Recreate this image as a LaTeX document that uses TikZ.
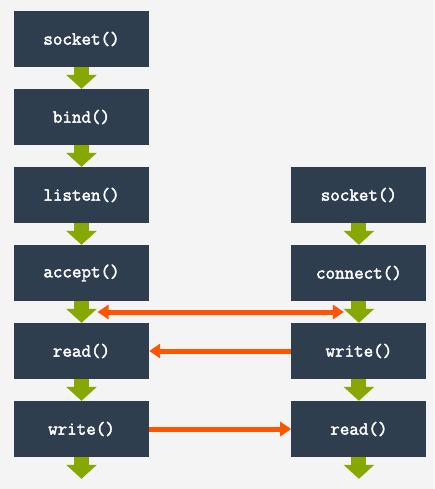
\documentclass[tikz,border=0pt]{standalone}
\usepackage{fontspec}
\newfontfamily\callfont{Latin Modern Mono}[FakeBold=2.2]
\usetikzlibrary{positioning,arrows.meta,calc}
\definecolor{boxblue}{HTML}{2F3E4F}
\definecolor{flowgreen}{HTML}{86A800}
\definecolor{msgorange}{HTML}{FF5500}
\definecolor{bggray}{HTML}{F4F4F4}
\tikzset{
  call/.style={fill=boxblue,text=white,minimum width=135pt,minimum height=56pt,
    inner sep=0pt,font=\fontsize{18.5}{22}\selectfont\callfont},
  flow/.style={flowgreen,line width=15pt,-{Triangle[width=30pt,length=14pt]}},
  msg/.style={msgorange,line width=5pt,-{Triangle[width=14pt,length=11pt]}},
}
\begin{document}
\begin{tikzpicture}[x=1pt,y=1pt,node distance=21.6pt]
    \fill[bggray] (0,0) rectangle (434,-489);
    \useasboundingbox (0,0) rectangle (434,-489);
    \node[call] (socketS) at (81.5,-39) {socket()};
    \node[call,below=of socketS] (bind) {bind()};
    \node[call,below=of bind] (listen) {listen()};
    \node[call,below=of listen] (accept) {accept()};
    \node[call,below=of accept] (readS) {read()};
    \node[call,below=of readS] (writeS) {write()};
    \coordinate[below=of writeS] (endS);
    \node[call,right=142pt of listen] (socketC) {socket()};
    \node[call,below=of socketC] (connect) {connect()};
    \node[call,below=of connect] (writeC) {write()};
    \node[call,below=of writeC] (readC) {read()};
    \coordinate[below=of readC] (endC);
    \draw[flow] (socketS) -- (bind);
    \draw[flow] (bind) -- (listen);
    \draw[flow] (listen) -- (accept);
    \draw[flow] (accept) -- (readS);
    \draw[flow] (readS) -- (writeS);
    \draw[flow] (writeS) -- (endS);
    \draw[flow] (socketC) -- (connect);
    \draw[flow] (connect) -- (writeC);
    \draw[flow] (writeC) -- (readC);
    \draw[flow] (readC) -- (endC);
    \draw[msg,{Triangle[width=14pt,length=11pt]}-{Triangle[width=14pt,length=11pt]}]
      ($(accept.south)!0.5!(readS.north)+(16,0)$) -- ($(connect.south)!0.5!(writeC.north)+(-15,0)$);
    \draw[msg] (writeC.west) -- (readS.east);
    \draw[msg] (writeS.east) -- (readC.west);
\end{tikzpicture}
\end{document}
